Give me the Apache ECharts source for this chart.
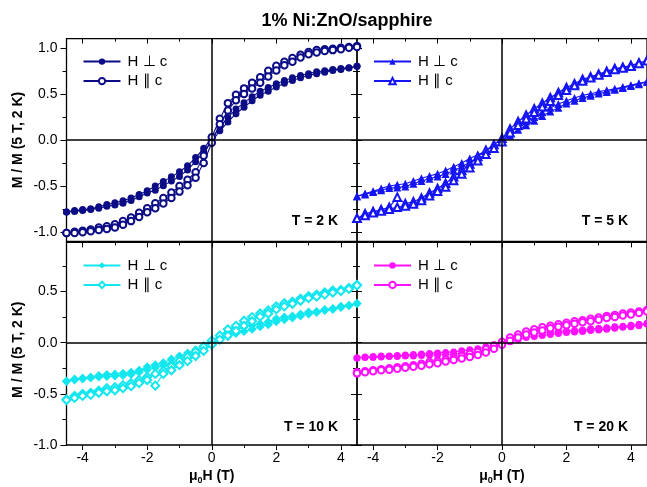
<!DOCTYPE html>
<html><head><meta charset="utf-8">
<script src="https://cdn.jsdelivr.net/npm/echarts@6/dist/echarts.min.js"></script>
<style>html,body{margin:0;padding:0;background:#fff}#c{width:647px;height:487px}</style>
</head><body><div id="c"></div><script>
// Field grid (T), ascending
const fieldT = [-4.5,-4.25,-4,-3.75,-3.5,-3.25,-3,-2.75,-2.5,-2.25,-2,-1.75,-1.5,-1.25,-1,-0.75,-0.5,-0.25,0,0.25,0.5,0.75,1,1.25,1.5,1.75,2,2.25,2.5,2.75,3,3.25,3.5,3.75,4,4.25,4.5];
const xTickLabels = [-4,-2,0,2,4];
const xMinorTicks = [-3,-1,1,3];
const yTickLabelsTop = [-1,-0.5,0,0.5,1];
const yTickLabelsBottom = [-1,-0.5,0,0.5];
const yMinorTicks = [-0.75,-0.25,0.25,0.75];
const panelLabels = ['T = 2 K','T = 5 K','T = 10 K','T = 20 K'];
const legendNames = ['H \u22a5 c','H \u2225 c'];

// ascending branch (-4.5 -> 4.5) and descending branch (4.5 -> -4.5), both indexed by fieldT
const perpUp2K = [-0.78,-0.775,-0.765,-0.755,-0.74,-0.72,-0.705,-0.685,-0.655,-0.615,-0.575,-0.545,-0.495,-0.445,-0.395,-0.325,-0.235,-0.13,-0.02,0.10,0.195,0.285,0.355,0.425,0.485,0.53,0.575,0.615,0.645,0.675,0.70,0.72,0.735,0.755,0.765,0.78,0.80];
const perpDown2K = [-0.78,-0.765,-0.755,-0.745,-0.725,-0.70,-0.68,-0.66,-0.63,-0.59,-0.55,-0.50,-0.45,-0.40,-0.345,-0.28,-0.19,-0.09,0.02,0.14,0.245,0.335,0.405,0.47,0.53,0.57,0.61,0.645,0.675,0.70,0.72,0.74,0.75,0.765,0.775,0.785,0.80];
const parUp2K = [-1.01,-1.01,-1.0,-0.99,-0.975,-0.965,-0.95,-0.92,-0.88,-0.835,-0.785,-0.74,-0.69,-0.63,-0.56,-0.49,-0.41,-0.25,-0.03,0.17,0.32,0.43,0.50,0.56,0.62,0.69,0.755,0.81,0.85,0.895,0.93,0.95,0.965,0.975,0.985,1.0,1.01];
const parDown2K = [-1.01,-0.995,-0.985,-0.97,-0.95,-0.935,-0.915,-0.88,-0.84,-0.79,-0.74,-0.685,-0.63,-0.57,-0.50,-0.43,-0.35,-0.17,0.03,0.23,0.40,0.49,0.56,0.62,0.68,0.75,0.805,0.85,0.89,0.925,0.955,0.975,0.985,0.99,1.0,1.01,1.02];

const perpUp5K = [-0.61,-0.59,-0.565,-0.545,-0.52,-0.515,-0.505,-0.475,-0.445,-0.42,-0.395,-0.37,-0.33,-0.29,-0.24,-0.20,-0.16,-0.09,-0.015,0.05,0.11,0.16,0.21,0.26,0.31,0.35,0.395,0.425,0.455,0.48,0.505,0.52,0.545,0.565,0.585,0.605,0.63];
const perpDown5K = [-0.61,-0.58,-0.555,-0.525,-0.50,-0.485,-0.475,-0.445,-0.415,-0.39,-0.365,-0.33,-0.29,-0.25,-0.20,-0.16,-0.12,-0.05,0.015,0.09,0.15,0.20,0.25,0.30,0.35,0.39,0.425,0.455,0.485,0.50,0.525,0.54,0.555,0.575,0.595,0.615,0.635];
const parUp5K = [-0.85,-0.82,-0.79,-0.77,-0.75,-0.73,-0.715,-0.695,-0.655,-0.605,-0.555,-0.51,-0.44,-0.37,-0.30,-0.225,-0.155,-0.09,-0.02,0.08,0.16,0.23,0.30,0.36,0.42,0.485,0.54,0.59,0.64,0.675,0.705,0.735,0.765,0.78,0.80,0.83,0.86];
const parDown5K = [-0.85,-0.80,-0.775,-0.755,-0.73,-0.62,-0.69,-0.67,-0.63,-0.575,-0.525,-0.47,-0.40,-0.33,-0.26,-0.18,-0.11,-0.05,0.02,0.12,0.20,0.27,0.34,0.40,0.46,0.515,0.57,0.61,0.66,0.685,0.715,0.745,0.775,0.79,0.81,0.835,0.865];

const perpUp10K = [-0.38,-0.365,-0.355,-0.345,-0.335,-0.33,-0.325,-0.32,-0.31,-0.29,-0.265,-0.245,-0.225,-0.20,-0.17,-0.14,-0.11,-0.07,-0.02,0.03,0.06,0.09,0.11,0.13,0.155,0.175,0.205,0.225,0.24,0.26,0.28,0.295,0.315,0.325,0.345,0.36,0.38];
const perpDown10K = [-0.375,-0.355,-0.345,-0.335,-0.32,-0.31,-0.305,-0.30,-0.29,-0.27,-0.235,-0.215,-0.195,-0.16,-0.13,-0.10,-0.07,-0.03,0.02,0.07,0.10,0.13,0.15,0.17,0.185,0.205,0.235,0.25,0.26,0.28,0.30,0.305,0.325,0.335,0.355,0.365,0.385];
const parUp10K = [-0.56,-0.54,-0.52,-0.51,-0.49,-0.475,-0.465,-0.445,-0.425,-0.395,-0.365,-0.42,-0.305,-0.27,-0.22,-0.18,-0.13,-0.08,-0.02,0.03,0.07,0.115,0.165,0.21,0.255,0.285,0.325,0.355,0.38,0.41,0.435,0.45,0.47,0.49,0.505,0.525,0.56];
const parDown10K = [-0.555,-0.52,-0.50,-0.49,-0.47,-0.445,-0.435,-0.415,-0.395,-0.365,-0.335,-0.305,-0.275,-0.23,-0.18,-0.14,-0.09,-0.04,0.02,0.07,0.13,0.165,0.215,0.25,0.285,0.315,0.355,0.385,0.40,0.43,0.455,0.47,0.49,0.51,0.515,0.535,0.565];

const perpUp20K = [-0.15,-0.145,-0.145,-0.14,-0.135,-0.135,-0.13,-0.13,-0.125,-0.12,-0.12,-0.115,-0.11,-0.105,-0.10,-0.09,-0.07,-0.05,-0.02,0.01,0.03,0.05,0.06,0.07,0.08,0.09,0.10,0.105,0.11,0.12,0.125,0.13,0.14,0.15,0.155,0.165,0.18];
const perpDown20K = [-0.15,-0.14,-0.135,-0.13,-0.13,-0.125,-0.12,-0.115,-0.11,-0.105,-0.10,-0.095,-0.09,-0.08,-0.07,-0.06,-0.04,-0.02,0.01,0.04,0.06,0.075,0.085,0.095,0.10,0.11,0.115,0.12,0.125,0.135,0.14,0.145,0.155,0.16,0.17,0.18,0.19];
const parUp20K = [-0.30,-0.29,-0.28,-0.27,-0.265,-0.255,-0.245,-0.235,-0.225,-0.21,-0.20,-0.185,-0.17,-0.155,-0.14,-0.12,-0.095,-0.06,-0.02,0.02,0.05,0.08,0.10,0.12,0.14,0.155,0.17,0.185,0.20,0.21,0.225,0.24,0.25,0.265,0.275,0.29,0.305];
const parDown20K = [-0.29,-0.28,-0.27,-0.26,-0.25,-0.24,-0.23,-0.22,-0.205,-0.19,-0.18,-0.165,-0.15,-0.13,-0.11,-0.09,-0.065,-0.03,0.01,0.05,0.08,0.11,0.13,0.15,0.165,0.18,0.195,0.21,0.22,0.235,0.245,0.26,0.27,0.285,0.295,0.305,0.32];

const panelData = [
  {perpUp: perpUp2K, perpDown: perpDown2K, parUp: parUp2K, parDown: parDown2K},
  {perpUp: perpUp5K, perpDown: perpDown5K, parUp: parUp5K, parDown: parDown5K},
  {perpUp: perpUp10K, perpDown: perpDown10K, parUp: parUp10K, parDown: parDown10K},
  {perpUp: perpUp20K, perpDown: perpDown20K, parUp: parUp20K, parDown: parDown20K}
];

// ---------- styles / layout ----------
const FONT = 'Liberation Sans, Arial, sans-serif';
const colors = ['#0c0c86', '#1414f5', '#12e6ee', '#ff10ff'];
const perpSymbols = ['circle', 'triangle', 'diamond', 'circle'];
const parSymbols = ['emptyCircle', 'emptyTriangle', 'emptyDiamond', 'emptyCircle'];
const perpSizes = [7, 8, 9, 7];
const parSizes = [6.5, 7.5, 8, 6.5];
const grids = [
  {left: 66.5, top: 38.6, width: 290.5, height: 202.8},
  {left: 357, top: 38.6, width: 290, height: 202.8},
  {left: 66.5, top: 242.4, width: 290.5, height: 202.6},
  {left: 357, top: 242.4, width: 290, height: 202.6}
];
const yRanges = [[-1.1, 1.1], [-1.1, 1.1], [-1.0, 0.98], [-1.0, 0.98]];

function loop(up, down) {
  const d = fieldT.map((h, i) => [h, down[i]]).reverse();
  const u = fieldT.map((h, i) => [h, up[i]]);
  return d.concat(u);
}

const xAxis = [], yAxis = [], series = [], legend = [];
const tickStyle = {color: '#000', width: 1};

grids.forEach((g, gi) => {
  const bottomRow = gi >= 2, leftCol = gi % 2 === 0;
  const baseX = {gridIndex: gi, type: 'value', min: -4.5, max: 4.5, splitLine: {show: false},
    axisLine: {show: false, onZero: false}};
  const xMain = xAxis.length;
  xAxis.push(Object.assign({}, baseX, {position: 'bottom',
    axisTick: {show: bottomRow, customValues: xTickLabels, length: 5, lineStyle: tickStyle},
    axisLabel: {show: bottomRow, customValues: xTickLabels, margin: 6, color: '#000', fontSize: 14, fontFamily: FONT},
    name: bottomRow ? '{a|\u03bc}{s|0}{a|H (T)}' : '', nameLocation: 'middle', nameGap: 23,
    nameTextStyle: {rich: {
      a: {fontSize: 14, fontWeight: 'bold', fontFamily: FONT, color: '#000'},
      s: {fontSize: 9, fontWeight: 'bold', fontFamily: FONT, color: '#000', verticalAlign: 'bottom', padding: [8, 0, 0, 0]}
    }}
  }));
  xAxis.push(Object.assign({}, baseX, {position: 'bottom',
    axisTick: {show: bottomRow, customValues: xMinorTicks, length: 3, lineStyle: tickStyle}, axisLabel: {show: false}}));
  xAxis.push(Object.assign({}, baseX, {position: 'top',
    axisTick: {show: true, inside: true, customValues: xTickLabels, length: 5, lineStyle: tickStyle}, axisLabel: {show: false}}));
  xAxis.push(Object.assign({}, baseX, {position: 'top',
    axisTick: {show: true, inside: true, customValues: xMinorTicks, length: 3, lineStyle: tickStyle}, axisLabel: {show: false}}));

  const yr = yRanges[gi];
  const yLabels = bottomRow ? yTickLabelsBottom : yTickLabelsTop;
  const baseY = {gridIndex: gi, type: 'value', min: yr[0], max: yr[1], splitLine: {show: false},
    axisLine: {show: false, onZero: false}};
  const yMain = yAxis.length;
  yAxis.push(Object.assign({}, baseY, {position: 'left',
    axisTick: {show: true, customValues: yLabels, length: 6, lineStyle: tickStyle},
    axisLabel: {show: leftCol, customValues: yLabels, margin: 9, color: '#000', fontSize: 14, fontFamily: FONT,
      formatter: v => v.toFixed(1)},
    name: leftCol ? 'M / M (5 T, 2 K)' : '', nameLocation: 'middle', nameGap: 41, nameRotate: 90,
    nameTextStyle: {fontSize: 14, fontWeight: 'bold', fontFamily: FONT, color: '#000',
      padding: bottomRow ? [0, 12, 0, 0] : 0}
  }));
  yAxis.push(Object.assign({}, baseY, {position: 'left',
    axisTick: {show: true, customValues: yMinorTicks, length: 4, lineStyle: tickStyle}, axisLabel: {show: false}}));
  if (leftCol) {
    yAxis.push(Object.assign({}, baseY, {position: 'right',
      axisTick: {show: true, customValues: yLabels, length: 5, lineStyle: tickStyle}, axisLabel: {show: false}}));
    yAxis.push(Object.assign({}, baseY, {position: 'right',
      axisTick: {show: true, customValues: yMinorTicks, length: 3, lineStyle: tickStyle}, axisLabel: {show: false}}));
  }

  const pd = panelData[gi];
  const c = colors[gi];
  const suffix = '\u200b'.repeat(gi);
  const nPerp = legendNames[0] + suffix, nPar = legendNames[1] + suffix;
  series.push({
    type: 'line', name: nPerp, xAxisIndex: xMain, yAxisIndex: yMain,
    data: loop(pd.perpUp, pd.perpDown),
    symbol: perpSymbols[gi], symbolSize: perpSizes[gi], showSymbol: true,
    lineStyle: {color: c, width: 1.1}, itemStyle: {color: c, borderWidth: 0},
    emphasis: {disabled: true}, animation: false, z: 3,
    markLine: {silent: true, symbol: 'none', animation: false, label: {show: false},
      lineStyle: {color: '#000', width: 1.5, type: 'solid'}, emphasis: {disabled: true},
      data: [{xAxis: 0}, {yAxis: 0}]}
  });
  series.push({
    type: 'line', name: nPar, xAxisIndex: xMain, yAxisIndex: yMain,
    data: loop(pd.parUp, pd.parDown),
    symbol: parSymbols[gi], symbolSize: parSizes[gi], showSymbol: true,
    lineStyle: {color: c, width: 1.1}, itemStyle: {color: c, borderColor: c, borderWidth: 1.1},
    emphasis: {disabled: true}, animation: false, z: 3
  });
  legend.push({
    data: [nPerp, nPar], orient: 'vertical', left: g.left + 11, top: g.top + 9.5,
    itemWidth: 37, itemHeight: 8, itemGap: 2.5, selectedMode: false,
    formatter: n => n.replace(/\u200b/g, ''),
    textStyle: {fontSize: 15, fontFamily: FONT, color: '#000', lineHeight: 17, padding: [0, 0, 0, 2]}
  });
});

const graphic = panelLabels.map((t, i) => ({
  type: 'text', silent: true,
  x: grids[i].left + grids[i].width - 19,
  y: grids[i].top + grids[i].height - (i < 2 ? 20 : 18),
  style: {text: t, font: 'bold 14px ' + FONT, fill: '#000', textAlign: 'right', textVerticalAlign: 'middle'}
}));

const chart = echarts.init(document.getElementById('c'), null, {renderer: 'canvas'});
chart.setOption({
  animation: false,
  backgroundColor: '#fff',
  title: {text: '1% Ni:ZnO/sapphire', left: 342, top: 7, textAlign: 'center',
    textStyle: {fontSize: 18, fontWeight: 'bold', fontFamily: FONT, color: '#000'}},
  grid: grids.map(g => Object.assign({show: true, borderColor: '#000', borderWidth: 1.3, containLabel: false}, g)),
  xAxis, yAxis, series, legend, graphic
});
</script></body></html>
